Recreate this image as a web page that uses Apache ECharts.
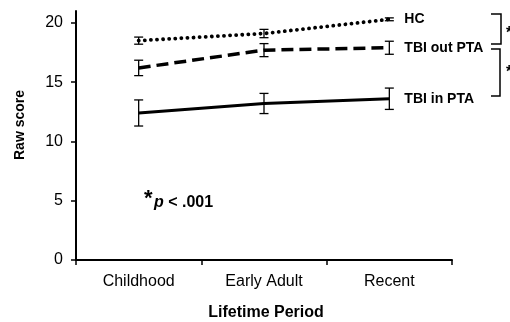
<!DOCTYPE html>
<html>
<head>
<meta charset="utf-8">
<script src="https://cdn.jsdelivr.net/npm/echarts@6/dist/echarts.min.js"></script>
<style>html,body{margin:0;padding:0;background:#fff;}#c{width:510px;height:322px;}</style>
</head>
<body>
<div id="c"></div>
<script>
var categories = ['Childhood', 'Early Adult', 'Recent'];
var seriesNames = ['HC', 'TBI out PTA', 'TBI in PTA'];
var hcMean = [18.5, 19.1, 20.3];
var hcErr = [0.3, 0.35, 0.12];
var outMean = [16.2, 17.7, 17.9];
var outErr = [0.65, 0.55, 0.55];
var inMean = [12.4, 13.2, 13.6];
var inErr = [1.1, 0.85, 0.9];
var yTicks = [0, 5, 10, 15, 20];

var FONT = 'Liberation Sans, Arial, sans-serif';

function errData(mean, err) {
  return mean.map(function (m, i) { return [i, m - err[i], m + err[i]]; });
}
function errSeries(mean, err) {
  return {
    type: 'custom',
    data: errData(mean, err),
    z: 5,
    silent: true,
    renderItem: function (params, api) {
      var x = api.value(0);
      var lo = api.coord([x, api.value(1)]);
      var hi = api.coord([x, api.value(2)]);
      var w = 4.5;
      var st = { stroke: '#000', lineWidth: 1.3 };
      return {
        type: 'group',
        children: [
          { type: 'line', shape: { x1: lo[0], y1: lo[1], x2: hi[0], y2: hi[1] }, style: st },
          { type: 'line', shape: { x1: lo[0] - w, y1: lo[1], x2: lo[0] + w, y2: lo[1] }, style: st },
          { type: 'line', shape: { x1: hi[0] - w, y1: hi[1], x2: hi[0] + w, y2: hi[1] }, style: st }
        ]
      };
    }
  };
}
function lineSeries(name, data, ls) {
  return {
    name: name,
    type: 'line',
    data: data,
    symbol: 'none',
    z: 4,
    lineStyle: ls,
    endLabel: {
      show: true,
      formatter: '{a}',
      distance: 15,
      color: '#000',
      fontFamily: FONT,
      fontWeight: 'bold',
      fontSize: 14
    }
  };
}

var chart = echarts.init(document.getElementById('c'), null, { renderer: 'canvas' });
chart.setOption({
  animation: false,
  backgroundColor: '#fff',
  grid: { left: 76, right: 58, top: 11, bottom: 62 },
  xAxis: {
    type: 'category',
    data: categories,
    boundaryGap: true,
    axisLine: { lineStyle: { color: '#000', width: 2 } },
    axisTick: { show: true, length: 5, lineStyle: { color: '#000', width: 1.5 } },
    axisLabel: { color: '#000', fontFamily: FONT, fontSize: 16, margin: 14 }
  },
  yAxis: {
    type: 'value',
    min: 0,
    max: 21,
    interval: 5,
    splitLine: { show: false },
    axisLine: { show: true, lineStyle: { color: '#000', width: 2 } },
    axisTick: { show: true, length: 5, customValues: yTicks, lineStyle: { color: '#000', width: 1.5 } },
    axisLabel: { color: '#000', fontFamily: FONT, fontSize: 16, margin: 13, customValues: yTicks }
  },
  series: [
    lineSeries(seriesNames[0], hcMean, { color: '#000', width: 3.8, type: [0.1, 6], cap: 'round' }),
    lineSeries(seriesNames[1], outMean, { color: '#000', width: 3.5, type: [12, 6], cap: 'butt' }),
    lineSeries(seriesNames[2], inMean, { color: '#000', width: 3.2, type: 'solid' }),
    errSeries(hcMean, hcErr),
    errSeries(outMean, outErr),
    errSeries(inMean, inErr)
  ],
  graphic: [
    { type: 'text', x: 20, y: 125, rotation: Math.PI / 2, style: { text: 'Raw score', fill: '#000', font: 'bold 14px ' + FONT, align: 'center', verticalAlign: 'middle' } },
    { type: 'text', x: 266, y: 313, style: { text: 'Lifetime Period', fill: '#000', font: 'bold 16px ' + FONT, align: 'center', verticalAlign: 'middle' } },
    { type: 'text', x: 144, y: 199, style: { text: '*', fill: '#000', font: 'bold 22px ' + FONT, align: 'left', verticalAlign: 'middle' } },
    { type: 'text', x: 154, y: 203, style: { rich: { p: { font: 'italic bold 16px ' + FONT, fill: '#000' }, r: { font: 'bold 16px ' + FONT, fill: '#000' } }, text: '{p|p}{r| < .001}', verticalAlign: 'middle' } },
    { type: 'polyline', shape: { points: [[491, 14], [501, 14], [501, 44], [491, 44]] }, style: { stroke: '#000', lineWidth: 1.5, fill: null } },
    { type: 'polyline', shape: { points: [[491, 49], [500, 49], [500, 96], [491, 96]] }, style: { stroke: '#000', lineWidth: 1.5, fill: null } },
    { type: 'text', x: 506, y: 34, style: { text: '*', fill: '#000', font: 'bold 16px ' + FONT, verticalAlign: 'middle' } },
    { type: 'text', x: 506, y: 73, style: { text: '*', fill: '#000', font: 'bold 16px ' + FONT, verticalAlign: 'middle' } }
  ]
});
</script>
</body>
</html>
